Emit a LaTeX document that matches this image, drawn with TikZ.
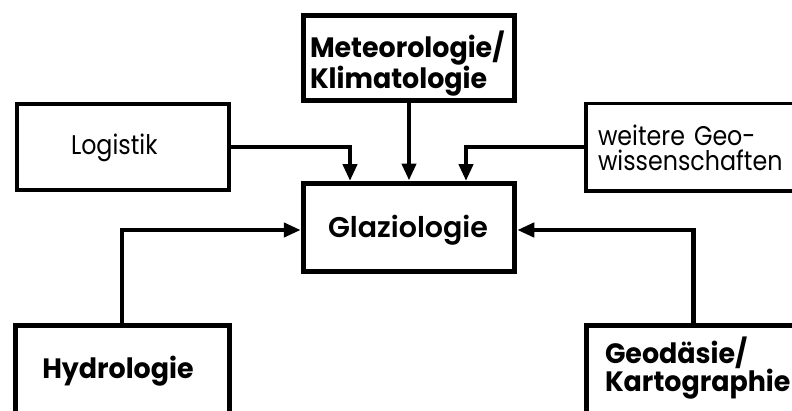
\documentclass[tikz,border=0pt]{standalone}
\usepackage{fontspec}
\setmainfont{Poppins}[FakeStretch=0.88, BoldFeatures={FakeStretch=0.96}]
\newfontfamily\halbfett{Poppins SemiBold}
\usetikzlibrary{arrows.meta}

\tikzset{
  fach/.style={draw, line width=5pt, inner sep=0pt, align=left,
    font=\bfseries\fontsize{28}{28}\selectfont},
  nebenfach/.style={fach, line width=3.5pt,
    font=\mdseries\fontsize{27}{25}\selectfont},
  zufluss/.style={line width=4.3pt, -{Triangle[width=14pt,length=17pt]}}
}

\begin{document}
\begin{tikzpicture}[x=1pt,y=-1pt]
  \useasboundingbox (0,0) rectangle (792,410);
  \clip (0,0) rectangle (792,410);
  %
  \node[fach, minimum width=211pt, minimum height=85pt, text width=198pt, text height=20pt, text depth=22pt] (meteo) at (409,58) {Meteorologie/\\Klimatologie};
  \node[nebenfach, minimum width=212pt, minimum height=86pt, text width=104pt, text height=20pt, text depth=6pt] (logistik) at (123,147) {Logistik};
  \node[nebenfach, minimum width=215pt, minimum height=87.5pt, text width=191pt, text height=20pt, text depth=24pt] (weitere) at (693.5,147) {weitere Geo-\\wissenschaften};
  \node[fach, minimum width=211.5pt, minimum height=88pt, text width=162pt, text height=22pt, text depth=2pt, font=\halbfett\fontsize{28.5}{28}\selectfont] (glazio) at (409,227) {Glaziologie};
  \node[fach, minimum width=213.5pt, minimum height=90pt, text width=160pt, text height=20pt, text depth=5pt] (hydro) at (122.25,370.5) {Hydrologie};
  \node[fach, minimum width=215pt, minimum height=90pt, text width=177pt, text height=10pt, text depth=24pt, font=\bfseries\fontsize{28}{25}\selectfont] (geod) at (693.5,370) {Geodäsie/\\Kartographie};
  %
  \coordinate (einL) at (350,181);
  \coordinate (einR) at (466,181);
  %
  \draw[zufluss] (logistik.east) -| (einL);
  \draw[zufluss] (weitere.west) -| (einR);
  \draw[zufluss] (meteo.south) -- (glazio.north);
  \draw[zufluss] (hydro.north) |- ([yshift=-3pt]glazio.west);
  \draw[zufluss] (geod.north) |- ([yshift=-3pt]glazio.east);
  %
\end{tikzpicture}
\end{document}
